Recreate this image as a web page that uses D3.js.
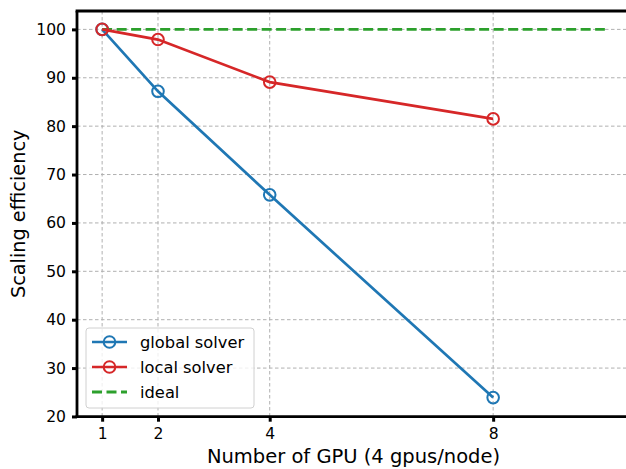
<!DOCTYPE html>
<html><head><meta charset="utf-8">
<script src="https://cdn.jsdelivr.net/npm/d3@7"></script>
<style>body{margin:0;background:#fff}svg{display:block;font-family:"DejaVu Sans",sans-serif}</style>
</head><body><svg id="c" width="626" height="469"></svg>
<script>
const gpus = [1, 2, 4, 8];
const globalSolver = [100, 87.2, 65.8, 23.9];
const localSolver = [100, 97.9, 89.1, 81.5];
const idealX = [1, 10];
const idealY = [100, 100];
const xTicks = [1, 2, 4, 8];
const yTicks = [20, 30, 40, 50, 60, 70, 80, 90, 100];

const svg = d3.select("#c");
const L = 77, R = 630, T = 11, B = 416.7;
const x = d3.scaleLinear().domain([0.55, 10.45]).range([L, R]);
const y = d3.scaleLinear().domain([19.95, 103.8]).range([B, T]);

const grid = svg.append("g");
xTicks.forEach(t => grid.append("line").attr("x1", x(t)).attr("x2", x(t)).attr("y1", T).attr("y2", B)
  .attr("stroke", "#b0b0b0").attr("stroke-width", 1).attr("stroke-dasharray", "3.5,2.5"));
yTicks.forEach(t => grid.append("line").attr("x1", L).attr("x2", R).attr("y1", y(t)).attr("y2", y(t))
  .attr("stroke", "#b0b0b0").attr("stroke-width", 1).attr("stroke-dasharray", "3.5,2.5"));

const line = d3.line().x(d => x(d[0])).y(d => y(d[1]));
svg.append("path").datum(idealX.map((v, i) => [v, idealY[i]])).attr("d", line)
  .attr("fill", "none").attr("stroke", "#2ca02c").attr("stroke-width", 2.8).attr("stroke-dasharray", "10,4.5");

function series(vals, color) {
  const pts = gpus.map((g, i) => [g, vals[i]]);
  svg.append("path").datum(pts).attr("d", line).attr("fill", "none").attr("stroke", color).attr("stroke-width", 2.7);
  svg.selectAll(null).data(pts).enter().append("circle").attr("cx", d => x(d[0])).attr("cy", d => y(d[1]))
    .attr("r", 5.8).attr("fill", "none").attr("stroke", color).attr("stroke-width", 2);
}
series(globalSolver, "#1f77b4");
series(localSolver, "#d62728");

// axes
const xa = svg.append("g").attr("transform", `translate(0,${B})`)
  .call(d3.axisBottom(x).tickValues(xTicks).tickSize(5).tickPadding(6).tickFormat(d3.format("d")));
const ya = svg.append("g").attr("transform", `translate(${L},0)`)
  .call(d3.axisLeft(y).tickValues(yTicks).tickSize(5).tickPadding(6).tickFormat(d3.format("d")));
[xa, ya].forEach(a => {
  a.select(".domain").remove();
  a.selectAll(".tick line").attr("stroke", "#000").attr("stroke-width", 3);
  a.selectAll(".tick text").attr("font-size", 15.6).attr("fill", "#000").attr("font-family", "DejaVu Sans");
});
// spines
svg.append("line").attr("x1", L).attr("x2", L).attr("y1", T).attr("y2", B).attr("stroke", "#000").attr("stroke-width", 2.8);
svg.append("line").attr("x1", L - 1.4).attr("x2", R).attr("y1", B).attr("y2", B).attr("stroke", "#000").attr("stroke-width", 2.8);
svg.append("line").attr("x1", L - 1.4).attr("x2", R).attr("y1", T).attr("y2", T).attr("stroke", "#000").attr("stroke-width", 2.8);

svg.append("text").attr("x", (L + R) / 2).attr("y", 463).attr("text-anchor", "middle").attr("font-size", 19.5).text("Number of GPU (4 gpus/node)");
svg.append("text").attr("transform", `translate(25,${(T + B) / 2}) rotate(-90)`).attr("text-anchor", "middle").attr("font-size", 19.3).text("Scaling efficiency");

// legend
const lg = svg.append("g");
lg.append("rect").attr("x", 86).attr("y", 328).attr("width", 168).attr("height", 80).attr("rx", 3)
  .attr("fill", "rgba(255,255,255,0.8)").attr("stroke", "#d0d0d0").attr("stroke-width", 1);
const items = [["global solver", "#1f77b4", false], ["local solver", "#d62728", false], ["ideal", "#2ca02c", true]];
items.forEach((it, i) => {
  const yy = 342 + i * 25;
  const ln = lg.append("line").attr("x1", 92).attr("x2", 127).attr("y1", yy).attr("y2", yy).attr("stroke", it[1]);
  if (it[2]) ln.attr("stroke-width", 2.8).attr("stroke-dasharray", "10,4.5");
  else {
    ln.attr("stroke-width", 2.7);
    lg.append("circle").attr("cx", 109.5).attr("cy", yy).attr("r", 5.8).attr("fill", "none").attr("stroke", it[1]).attr("stroke-width", 2);
  }
  lg.append("text").attr("x", 140).attr("y", yy + 5.5).attr("font-size", 16.3).text(it[0]);
});
</script></body></html>
